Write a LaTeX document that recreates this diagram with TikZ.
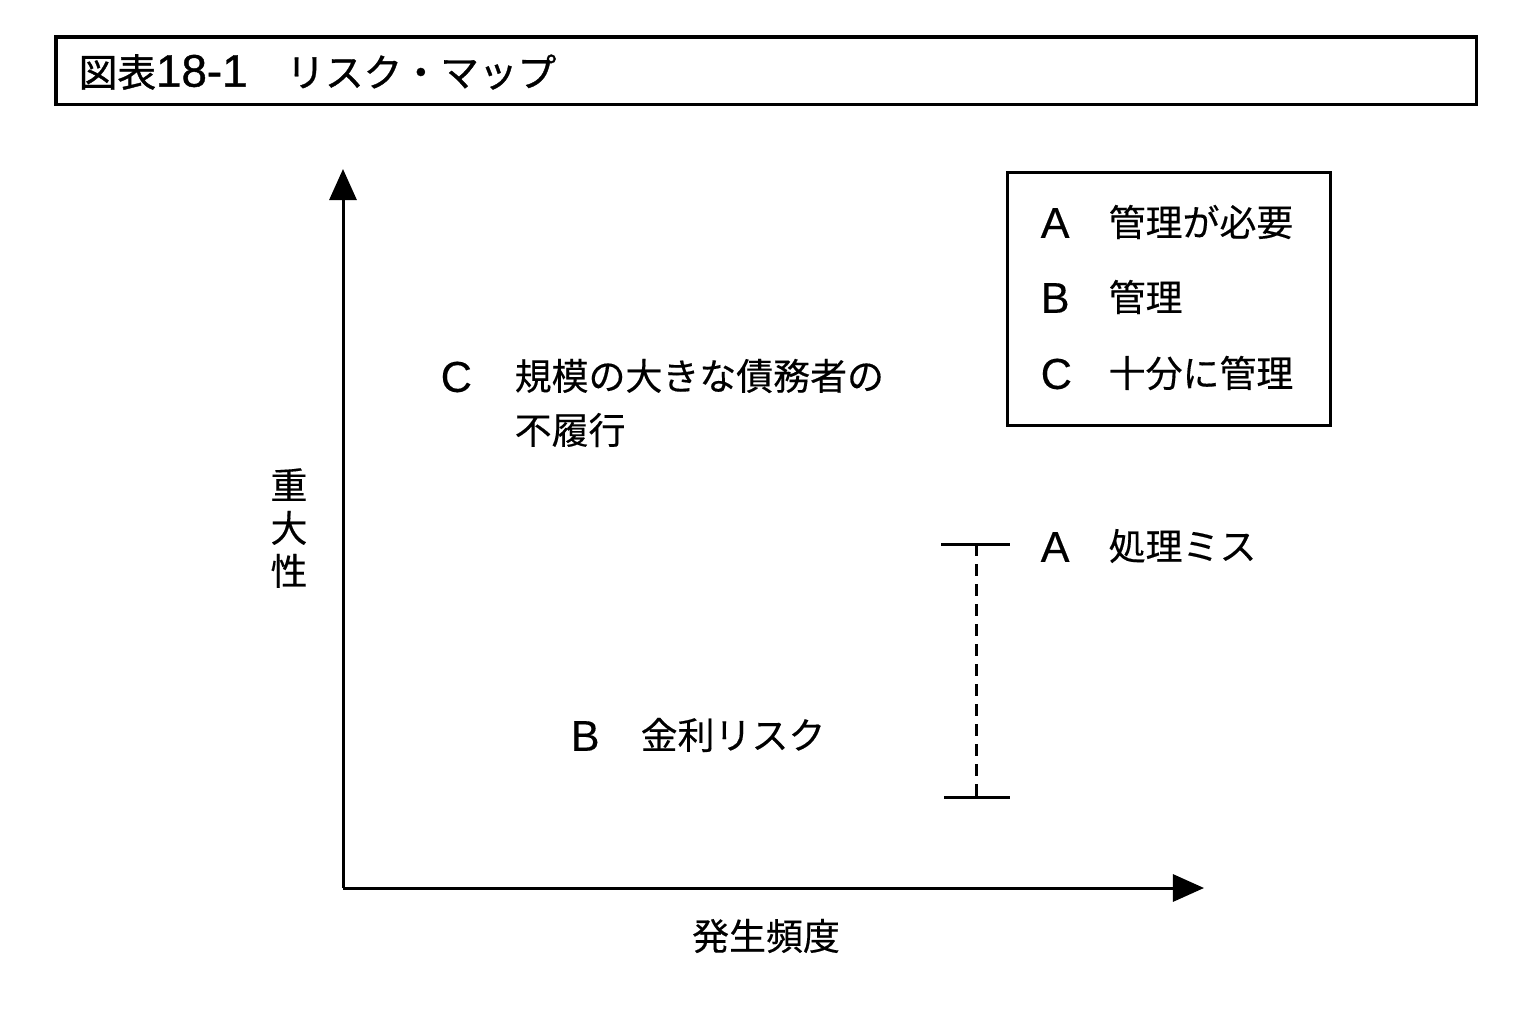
\documentclass[tikz,border=0pt]{standalone}
\usepackage{fontspec}
\setmainfont[FakeBold=0.3]{Liberation Sans}
\newfontfamily\jp[FakeBold=0.3]{Noto Sans CJK JP}
\newfontfamily\jph[FakeBold=0.9]{Noto Sans CJK JP}
\newfontfamily\lath[FakeBold=0.9]{Liberation Sans}
\usetikzlibrary{arrows.meta}

\begin{document}
\begin{tikzpicture}[x=0.01cm, y=-0.01cm,
  txt/.style={inner sep=0pt, anchor=west, font=\fontsize{10.5pt}{13pt}\selectfont\jp},
  let/.style={inner sep=0pt, anchor=west, font=\fontsize{12.3pt}{14pt}\selectfont},
  frame/.style={draw=black, line width=3pt*0.2845},
  axis/.style={line width=3pt*0.2845, -{Triangle[length=0.31cm, width=0.27cm]}},
  bar/.style={line width=3pt*0.2845},
  barline/.style={line width=3pt*0.2845, dash pattern=on 0.12cm off 0.08cm}]
  \useasboundingbox[fill=white] (0,0) rectangle (1536,1024);

  % heading box
  \draw[frame] (56,37) rectangle (1476,104);
  \node[inner sep=0pt, anchor=west, font=\fontsize{11pt}{13pt}\selectfont\jph] (title) at (78,72)
    {図表{\fontsize{13pt}{14pt}\lath 18-1}　リスク・マップ};

  % axes
  \coordinate (origin) at (343,888);
  \coordinate (ytip) at (343,169);
  \coordinate (xtip) at (1204,888);
  \draw[axis] (origin) -- (ytip);
  \draw[axis] (origin) -- (xtip);
  \node[txt, anchor=center, align=center, font=\fontsize{10.5pt}{12.2pt}\selectfont\jp] (ylab) at (289,528) {重\\大\\性};
  \node[txt, anchor=center] (xlab) at (766,936) {発生頻度};

  % legend
  \draw[frame] (1007,172) rectangle (1330,425);
  \node[let] (la) at (1040,223) {A};
  \node[txt] (lat) at (1108,222) {管理が必要};
  \node[let] (lb) at (1040,298) {B};
  \node[txt] (lbt) at (1108,297) {管理};
  \node[let] (lc) at (1040,374) {C};
  \node[txt] (lct) at (1108,373) {十分に管理};

  % risk C
  \node[let] (rc) at (440,377) {C};
  \node[txt] (rct1) at (514,376) {規模の大きな債務者の};
  \node[txt] (rct2) at (514,430) {不履行};

  % risk A with range bar
  \coordinate (atl) at (941,544);
  \coordinate (atr) at (1010,544);
  \coordinate (abl) at (944,797);
  \coordinate (abr) at (1010,797);
  \coordinate (atm) at (976,544);
  \coordinate (abm) at (976,797);
  \draw[bar] (atl) -- (atr);
  \draw[bar] (abl) -- (abr);
  \draw[barline] (atm) -- (abm);
  \node[let] (ra) at (1040,547) {A};
  \node[txt] (rat) at (1108,546) {処理ミス};

  % risk B
  \node[let] (rb) at (570,736) {B};
  \node[txt] (rbt) at (640,735) {金利リスク};
\end{tikzpicture}
\end{document}
